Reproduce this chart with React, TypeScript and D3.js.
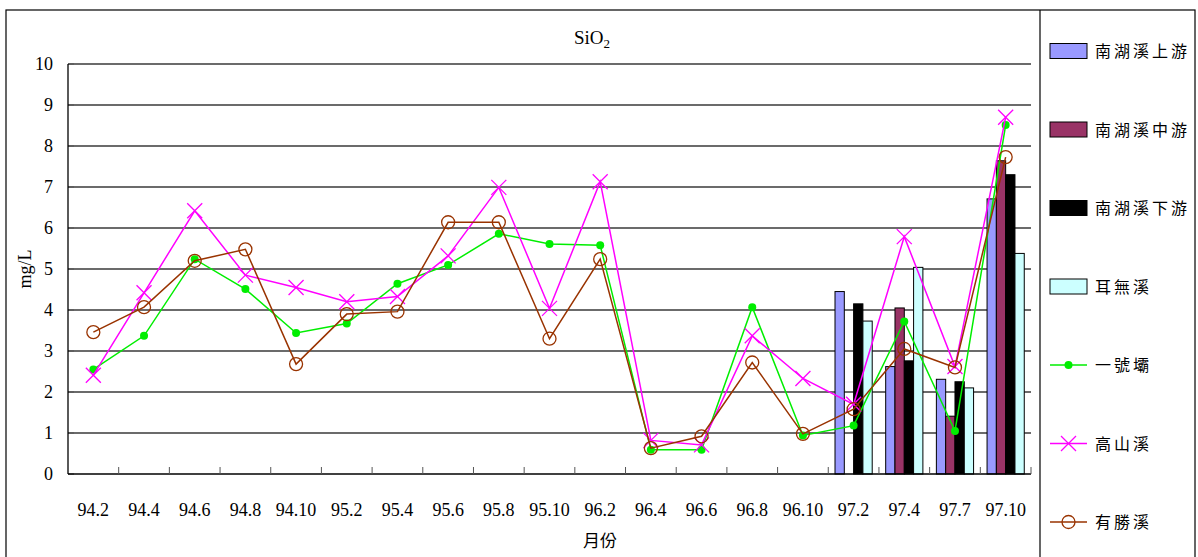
import React from "react";
import * as d3 from "d3";

const categories = ["94.2","94.4","94.6","94.8","94.10","95.2","95.4","95.6","95.8","95.10","96.2","96.4","96.6","96.8","96.10","97.2","97.4","97.7","97.10"];

const barCategories = ["97.2","97.4","97.7","97.10"];
const nanhuUpper = [4.45, 2.62, 2.31, 6.71];
const nanhuMiddle = [null, 4.05, 1.41, 7.64];
const nanhuLower = [4.15, 2.76, 2.25, 7.3];
const erwu = [3.73, 5.04, 2.1, 5.38];

const yihaoba = [2.55,3.37,5.24,4.51,3.44,3.67,4.64,5.1,5.86,5.61,5.58,0.59,0.59,4.07,0.94,1.18,3.72,1.05,8.51];
const gaoshan = [2.41,4.42,6.42,4.85,4.55,4.2,4.33,5.32,6.99,4.04,7.13,0.82,0.71,3.37,2.33,1.7,5.79,2.62,8.7];
const yousheng = [3.46,4.07,5.2,5.48,2.68,3.9,3.96,6.14,6.14,3.3,5.24,0.63,0.92,2.72,0.98,1.58,3.05,2.6,7.73];

const yTicks = [0,1,2,3,4,5,6,7,8,9,10];

const barSeries = [
  { name: "南湖溪上游", values: nanhuUpper, color: "#9999FF" },
  { name: "南湖溪中游", values: nanhuMiddle, color: "#993366" },
  { name: "南湖溪下游", values: nanhuLower, color: "#000000" },
  { name: "耳無溪", values: erwu, color: "#CCFFFF" },
];
const lineSeries = [
  { name: "一號壩", values: yihaoba, color: "#00EE00", marker: "dot" },
  { name: "高山溪", values: gaoshan, color: "#FF00FF", marker: "x" },
  { name: "有勝溪", values: yousheng, color: "#993300", marker: "circle" },
];

const serif = "'Liberation Serif', 'Times New Roman', serif";
const cjk = "'Noto Sans CJK TC', 'Noto Sans CJK SC', sans-serif";

function Marker({ type, x, y, color }: { type: string; x: number; y: number; color: string }) {
  if (type === "dot") return <circle cx={x} cy={y} r={4} fill={color} />;
  if (type === "x") {
    const s = 7.5;
    return (
      <g stroke={color} strokeWidth={1.3}>
        <line x1={x - s} y1={y - s} x2={x + s} y2={y + s} />
        <line x1={x - s} y1={y + s} x2={x + s} y2={y - s} />
      </g>
    );
  }
  return <circle cx={x} cy={y} r={6.5} fill="none" stroke={color} strokeWidth={1.3} />;
}

export default function App() {
  const left = 68, right = 1031, top = 64, bottom = 474;
  const x = d3.scaleBand<string>().domain(categories).range([left, right]).padding(0);
  const y = d3.scaleLinear().domain([0, 10]).range([bottom, top]);
  const xInner = d3.scaleBand<string>().domain(barSeries.map(s => s.name)).range([0, x.bandwidth()]).paddingInner(0).paddingOuter(0.725);
  const line = d3.line<number>().x((_, i) => (x(categories[i]) as number) + x.bandwidth() / 2).y(d => y(d));

  const legendY = (i: number) => 51 + i * 78.5;

  return (
    <>
      <style>{`body{margin:0}`}</style>
      <svg width={1198} height={557} style={{ display: "block" }}>
        <rect x={0} y={0} width={1198} height={557} fill="#fff" />
        <rect x={6} y={10} width={1189} height={560} fill="none" stroke="#000" strokeWidth={1.2} />
        <line x1={1040} y1={10} x2={1040} y2={557} stroke="#000" strokeWidth={1.2} />

        {/* title */}
        <text x={592} y={44} textAnchor="middle" fontFamily={serif} fontSize={19}>
          SiO<tspan fontSize={13} dy={4}>2</tspan>
        </text>

        {/* gridlines */}
        {yTicks.filter(t => t > 0).map(t => (
          <line key={t} x1={left} x2={right} y1={y(t)} y2={y(t)} stroke="#3a3a3a" strokeWidth={1.3} />
        ))}
        {/* y ticks labels */}
        {yTicks.map(t => (
          <g key={t}>
            <line x1={left} x2={left + 6} y1={y(t)} y2={y(t)} stroke="#555" strokeWidth={1} />
            <text x={53} y={y(t) + 6} textAnchor="end" fontFamily={serif} fontSize={18}>{t}</text>
          </g>
        ))}

        {/* bars */}
        {barSeries.map(s => (
          <g key={s.name}>
            {s.values.map((v, i) => v == null ? null : (
              <rect key={i}
                x={(x(barCategories[i]) as number) + (xInner(s.name) as number)}
                y={y(v)} width={xInner.bandwidth()} height={bottom - y(v)}
                fill={s.color} stroke="#000" strokeWidth={1} />
            ))}
          </g>
        ))}

        {/* axes */}
        <line x1={left} x2={left} y1={top} y2={bottom} stroke="#000" strokeWidth={1.3} />
        <line x1={left} x2={right} y1={bottom} y2={bottom} stroke="#000" strokeWidth={1.3} />
        {categories.map((c, i) => i === 0 ? null : (
          <line key={c} x1={x(c)} x2={x(c)} y1={bottom} y2={bottom - 7} stroke="#555" strokeWidth={1} />
        ))}
        <line x1={right} x2={right} y1={bottom} y2={bottom - 7} stroke="#555" strokeWidth={1} />
        {categories.map(c => (
          <text key={c} x={(x(c) as number) + x.bandwidth() / 2} y={516} textAnchor="middle" fontFamily={serif} fontSize={18}>{c}</text>
        ))}

        {/* lines */}
        {lineSeries.map(s => (
          <g key={s.name}>
            <path d={line(s.values) as string} fill="none" stroke={s.color} strokeWidth={1.5} />
            {s.values.map((v, i) => (
              <Marker key={i} type={s.marker} x={(x(categories[i]) as number) + x.bandwidth() / 2} y={y(v)} color={s.color} />
            ))}
          </g>
        ))}

        {/* axis titles */}
        <text x={600} y={547} textAnchor="middle" fontFamily={cjk} fontSize={17}>月份</text>
        <text transform={`translate(31,${(top + bottom) / 2}) rotate(-90)`} textAnchor="middle" fontFamily={serif} fontSize={18}>mg/L</text>

        {/* legend */}
        {barSeries.map((s, i) => (
          <g key={s.name}>
            <rect x={1050} y={legendY(i) - 7.5} width={37} height={15} fill={s.color} stroke="#000" strokeWidth={1} />
            <text x={1095} y={legendY(i) + 6} fontFamily={cjk} fontSize={16} letterSpacing={3}>{s.name}</text>
          </g>
        ))}
        {lineSeries.map((s, j) => {
          const i = j + 4;
          return (
            <g key={s.name}>
              <line x1={1050} x2={1087} y1={legendY(i)} y2={legendY(i)} stroke={s.color} strokeWidth={1.5} />
              <Marker type={s.marker} x={1068.5} y={legendY(i)} color={s.color} />
              <text x={1095} y={legendY(i) + 6} fontFamily={cjk} fontSize={16} letterSpacing={3}>{s.name}</text>
            </g>
          );
        })}
      </svg>
    </>
  );
}
